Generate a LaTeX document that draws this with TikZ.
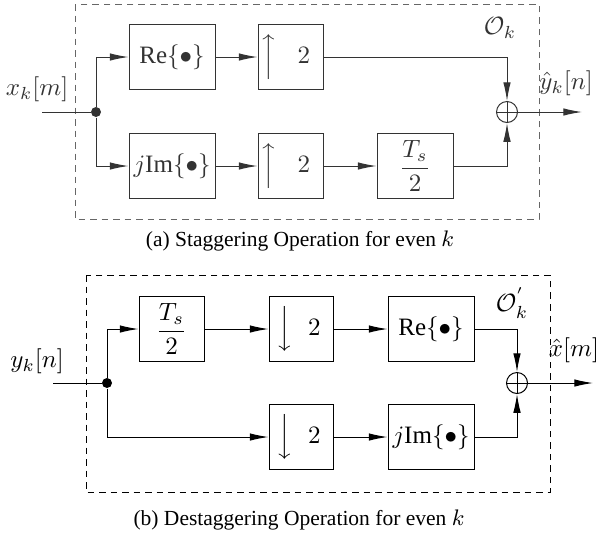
\documentclass[tikz,border=0pt]{standalone}
\usepackage{amsmath}
\usepackage{fontspec}
\setmainfont{Liberation Serif}
\usetikzlibrary{arrows.meta}

\begin{document}
\begin{tikzpicture}[x = 0.4pt, y = -0.4pt, >={Latex[length = 7.5pt, width = 3pt]}]
    \useasboundingbox (0, 0) rectangle (599, 535);

    \tikzstyle{blk} = [draw, minimum height = 26pt, inner sep = 0pt]
    \tikzstyle{sum} = [circle, draw, minimum size = 8.4pt, inner sep = 0pt,
        path picture = {\draw (path picture bounding box.north) -- (path picture bounding box.south)
            (path picture bounding box.west) -- (path picture bounding box.east);}]
    \tikzstyle{vert} = [circle, fill, inner sep = 0pt, minimum size = 4pt]
    \tikzstyle{frame} = [dash pattern = on 2.6pt off 2pt]

    % staggering
    \begin{scope}[black!80]
        \draw[frame, black!60] (75, 4) rectangle (539, 219);

        \coordinate (in1) at (42, 112);
        \node[vert] (d1) at (96, 112) {};
        \node[blk, minimum width = 34.4pt] (re1) at (172, 57) {Re$\{\bullet\}$};
        \node[blk, minimum width = 34.4pt] (im1) at (172, 166) {$j$Im$\{\bullet\}$};
        \node[blk, minimum width = 26pt] (up1) at (290.5, 57) {$\Big\uparrow\hspace{8pt}2\hspace{4pt}$};
        \node[blk, minimum width = 26pt] (up2) at (290.5, 166) {$\Big\uparrow\hspace{8pt}2\hspace{4pt}$};
        \node[blk, minimum width = 30.4pt] (ts1) at (415, 166) {$\dfrac{T_s}{2}$};
        \node[sum] (s1) at (507, 112) {};
        \coordinate (out1) at (582, 112);

        \node (xk) at (37, 89) {$x_k[m]$};
        \node (yh) at (566, 83) {$\hat{y}_k[n]$};
        \node (ok) at (500, 28) {$\mathcal{O}_k$};

        \draw (in1) -- (d1);
        \draw[->] (d1) |- (re1);
        \draw[->] (d1) |- (im1);
        \draw[->] (re1) -- (up1);
        \draw[->] (im1) -- (up2);
        \draw[->] (up2) -- (ts1);
        \draw[->] (up1) -| (s1);
        \draw[->] (ts1) -| (s1);
        \draw[->] (s1) -- (out1);
    \end{scope}

    \node (capa) at (300, 241) {\fontsize{8.6}{10}\selectfont (a) Staggering Operation for even $k$};

    % destaggering
    \draw[frame] (86, 275) rectangle (550, 492);

    \coordinate (in2) at (53, 383);
    \node[vert] (d2) at (107, 383) {};
    \node[blk, minimum width = 26pt] (ts2) at (171.5, 329) {$\dfrac{T_s}{2}$};
    \node[blk, minimum width = 25.6pt] (dn1) at (301, 329) {$\Big\downarrow\hspace{6pt}2\hspace{2pt}$};
    \node[blk, minimum width = 25.6pt] (dn2) at (301, 437) {$\Big\downarrow\hspace{6pt}2\hspace{2pt}$};
    \node[blk, minimum width = 34.4pt] (re2) at (431, 329) {Re$\{\bullet\}$};
    \node[blk, minimum width = 34.4pt] (im2) at (431, 437) {$j$Im$\{\bullet\}$};
    \node[sum] (s2) at (517, 383) {};
    \coordinate (out2) at (593, 383);

    \node (yk) at (37, 361) {$y_k[n]$};
    \node (xh) at (574, 350) {$\hat{x}[m]$};
    \node (okp) at (512, 303) {$\mathcal{O}^{'}_k$};

    \draw (in2) -- (d2);
    \draw[->] (d2) |- (ts2);
    \draw[->] (d2) |- (dn2);
    \draw[->] (ts2) -- (dn1);
    \draw[->] (dn1) -- (re2);
    \draw[->] (dn2) -- (im2);
    \draw[->] (re2) -| (s2);
    \draw[->] (im2) -| (s2);
    \draw[->] (s2) -- (out2);

    \node (capb) at (299, 520) {\fontsize{8.6}{10}\selectfont (b) Destaggering Operation for even $k$};
\end{tikzpicture}
\end{document}
